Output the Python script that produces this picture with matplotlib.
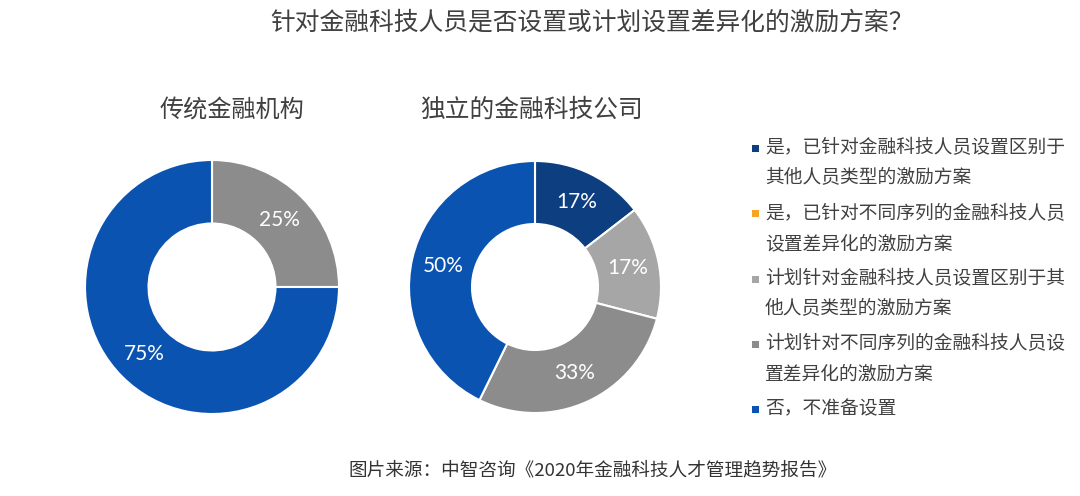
import matplotlib
matplotlib.use("Agg")
import matplotlib.pyplot as plt
from matplotlib.patches import Rectangle

plt.rcParams['font.family'] = ['Noto Sans CJK SC', 'DejaVu Sans']

title = "针对金融科技人员是否设置或计划设置差异化的激励方案？"
source = "图片来源：中智咨询《2020年金融科技人才管理趋势报告》"

categories = [
    "是，已针对金融科技人员设置区别于\n其他人员类型的激励方案",
    "是，已针对不同序列的金融科技人员\n设置差异化的激励方案",
    "计划针对金融科技人员设置区别于其\n他人员类型的激励方案",
    "计划针对不同序列的金融科技人员设\n置差异化的激励方案",
    "否，不准备设置",
]
colors = ["#0d3f80", "#f5a623", "#a6a6a6", "#8c8c8c", "#0b53b1"]

left_title = "传统金融机构"
left_values = [0, 0, 0, 25, 75]
right_title = "独立的金融科技公司"
right_values = [17, 0, 17, 33, 50]

W, H = 1080, 496
fig = plt.figure(figsize=(W / 100, H / 100), dpi=100)

def donut(cx, cy, r, values):
    ax = fig.add_axes([(cx - r) / W, (H - cy - r) / H, 2 * r / W, 2 * r / H])
    vals = [v for v in values if v > 0]
    cols = [c for v, c in zip(values, colors) if v > 0]
    wedges, texts, autotexts = ax.pie(
        vals, colors=cols, startangle=90, counterclock=False, radius=1,
        wedgeprops=dict(width=0.5, edgecolor="white", linewidth=1.5),
        autopct=lambda p: "", pctdistance=0.75)
    for t, v in zip(autotexts, vals):
        t.set_text(f"{v}%")
        t.set_color("white")
        t.set_fontsize(15)
        t.set_fontfamily(["Lato", "DejaVu Sans"])
        t.set_fontweight("normal")
    ax.set_xlim(-1, 1)
    ax.set_ylim(-1, 1)
    ax.set_aspect("equal")
    ax.axis("off")
    return ax

donut(212, 287, 127, left_values)
donut(535, 287, 126, right_values)

txt_color = "#404040"
fig.text(592 / W, 1 - 22 / H, title, ha="center", va="center", fontsize=17.8, color=txt_color)
fig.text(232 / W, 1 - 110 / H, left_title, ha="center", va="center", fontsize=17.4, color=txt_color)
fig.text(532 / W, 1 - 110 / H, right_title, ha="center", va="center", fontsize=17.8, color=txt_color)
fig.text(593 / W, 1 - 470 / H, source, ha="center", va="center", fontsize=13.4, color="#333333")

# legend
y0 = 148
entry_gap = 65.3
line_gap = 30
for i, (lab, c) in enumerate(zip(categories, colors)):
    y = y0 + i * entry_gap
    fig.add_artist(Rectangle(((752) / W, 1 - (y + 4) / H), 7 / W, 7 / H,
                             transform=fig.transFigure, facecolor=c, edgecolor="none"))
    for j, line in enumerate(lab.split("\n")):
        fig.text(765 / W, 1 - (y + j * line_gap) / H, line, ha="left", va="center",
                 fontsize=13.5, color=txt_color)

fig.savefig("out.png", dpi=100, facecolor="white")
